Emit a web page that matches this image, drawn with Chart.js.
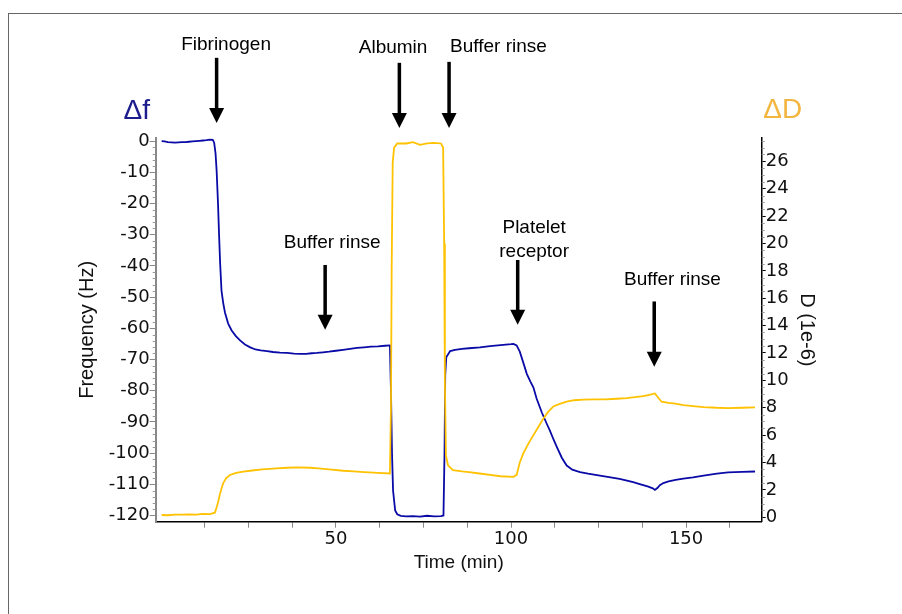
<!DOCTYPE html>
<html>
<head>
<meta charset="utf-8">
<script src="https://cdn.jsdelivr.net/npm/chart.js@4.4.1/dist/chart.umd.min.js"></script>
<style>
  html, body { margin: 0; padding: 0; background: #fff; overflow: hidden; }
  #wrap { position: relative; width: 902px; height: 614px; }
  #frame {
    position: absolute; left: 8px; top: 13px; width: 920px; height: 640px;
    border-left: 1.5px solid #666; border-top: 1.5px solid #666;
    pointer-events: none;
  }
</style>
</head>
<body>
<div id="wrap">
  <canvas id="qcm" width="902" height="614"></canvas>
  <div id="frame"></div>
</div>
<script>
// frequency shift (min, Hz)
const freqTime = [0.2, 1, 2, 3, 4, 5, 6, 7, 8, 9, 10, 11, 12, 13, 14, 14.8, 15.2, 15.6, 15.9, 16.3,
  16.6, 16.9, 17.3, 17.8, 18.3, 19.2, 20.2, 21.4, 22.6, 24, 25.5, 27, 28.5, 30.3, 32, 34, 36, 38, 39.7, 41.5,
  43, 44.5, 46.3, 48, 50, 52, 54, 56, 58, 60, 62, 64, 65.4, 65.7, 66.0, 66.3, 66.9, 67.5, 68.5, 70,
  72, 74, 76, 78, 80, 80.7, 81.0, 81.2, 81.5, 82.6, 84, 86, 88, 91.1, 94, 97, 100, 100.7, 101.6, 102.5,
  103.5, 104.5, 105.5, 106.4, 107.3, 108.8, 110.2, 111.1, 112.2, 113.1, 114.5, 115.9, 117.5, 119.7, 122, 125.4, 128, 131, 134.9, 137,
  139, 140.5, 141.1, 141.8, 142.5, 143.5, 145, 147, 149.2, 152, 155, 158.8, 162, 166, 169.7];
const freqValues = [0.0, -0.1, -0.3, -0.4, -0.5, -0.4, -0.3, -0.3, -0.2, -0.1, 0.0, 0.1, 0.2, 0.3, 0.5, 0.4, -0.5, -4, -9.4, -20,
  -30, -39, -48, -52, -55, -58.5, -60.7, -62.5, -63.9, -65.2, -66.1, -66.8, -67.1, -67.3, -67.6, -67.8, -67.9, -68.1, -68.2, -68.2,
  -68.0, -67.9, -67.7, -67.5, -67.2, -66.9, -66.6, -66.3, -66.1, -65.9, -65.8, -65.6, -65.5, -80, -100, -112, -118.4, -119.6, -120.1, -120.3,
  -120.2, -120.4, -120.1, -120.3, -120.2, -120.0, -100, -75, -69.3, -67.3, -66.9, -66.6, -66.4, -66.1, -65.7, -65.4, -65.1, -65.0, -65.5, -67.5,
  -71, -74.6, -77, -79, -82.5, -87, -90.6, -92.8, -95.8, -98.1, -101.5, -104, -105.3, -106.1, -106.6, -107.2, -107.7, -108.3, -109.3, -110.0,
  -110.7, -111.3, -111.8, -111.2, -110.3, -109.6, -109.1, -108.6, -108.2, -107.8, -107.2, -106.6, -106.2, -106.0, -105.9];

// dissipation (min, 1e-6)
const dissTime = [0.2, 2, 4, 6, 8, 10, 12, 14, 15.4, 16.0, 16.5, 16.9, 17.4, 17.8, 18.6, 19.7, 21.5, 23.5, 26, 29,
  33, 36, 39, 42.6, 45, 48, 52.1, 55, 58, 62, 65.4, 65.7, 65.9, 66.2, 66.6, 67.5, 70, 72, 74, 76,
  78, 80, 80.6, 80.9, 81.1, 81.4, 82, 83.4, 86, 88, 91, 94, 97, 100.7, 101.6, 102.5, 103.5, 105, 106.4, 107.8,
  109.2, 110.6, 112.1, 113.5, 115.9, 118, 120.7, 124, 127, 130.2, 133, 136, 137.8, 139.5, 141.1, 142, 143, 145, 147, 149.2,
  152, 155, 158.8, 162, 166, 169.7];
const dissValues = [0.17, 0.15, 0.2, 0.2, 0.22, 0.2, 0.25, 0.24, 0.34, 0.8, 1.3, 1.75, 2.2, 2.5, 2.85, 3.09, 3.25, 3.33, 3.42, 3.5,
  3.58, 3.62, 3.64, 3.62, 3.58, 3.5, 3.4, 3.35, 3.3, 3.25, 3.2, 8, 18, 25.9, 27.0, 27.3, 27.3, 27.4, 27.2, 27.3,
  27.35, 27.3, 27.0, 20, 10, 4.5, 3.8, 3.45, 3.35, 3.3, 3.2, 3.1, 3.0, 2.96, 3.1, 4.0, 4.67, 5.4, 6.0, 6.6,
  7.2, 7.7, 8.1, 8.25, 8.44, 8.55, 8.6, 8.62, 8.62, 8.66, 8.7, 8.8, 8.85, 8.95, 9.05, 8.75, 8.44, 8.35, 8.3, 8.2,
  8.12, 8.05, 8.0, 7.98, 8.0, 8.03];

// injection events: label lines, arrow time, label time
const eventLabels = [["Fibrinogen"], ["Buffer rinse"], ["Albumin"], ["Buffer rinse"], ["Platelet", "receptor"], ["Buffer rinse"]];
const eventTimes = [15.9, 46.9, 68.1, 82.3, 101.9, 140.9];
const labelTimes = [18.6, 48.9, 66.3, 96.4, 106.6, 146.1];
// vertical placement in Hz units of the left axis
const labelLevels = [30.8, -32.7, 30.0, 30.2, -27.9, -44.5];
const arrowTop = [26.7, -39.7, 25.1, 25.4, -38.1, -51.4];
const arrowTip = [5.8, -60.5, 4.2, 4.2, -58.9, -72.3];

const BLUE = "#0a0aa6";
const GOLD = "#ffc200";
const TEXT_FONT = '"Liberation Sans", Arial, sans-serif';
const TICK_FONT = { family: '"DejaVu Sans", Verdana, sans-serif', size: 18 };

const minorTicks = {
  id: "minorTicks",
  afterDraw(chart) {
    const { ctx } = chart;
    const y = chart.scales.y;
    const d = chart.scales.yD;
    ctx.save();
    ctx.lineWidth = 1;
    ctx.strokeStyle = "#999";
    ctx.beginPath();
    for (let v = -118; v <= y.max; v += 2) {
      if (v % 10 === 0) continue;
      const py = Math.round(y.getPixelForValue(v)) + 0.5;
      ctx.moveTo(y.right - 3, py);
      ctx.lineTo(y.right, py);
    }
    for (let v = 0.5; v <= d.max; v += 0.5) {
      if (v % 2 === 0) continue;
      const py = Math.round(d.getPixelForValue(v)) + 0.5;
      ctx.moveTo(d.left, py);
      ctx.lineTo(d.left + 3, py);
    }
    ctx.stroke();
    ctx.restore();
  }
};

const annotations = {
  id: "annotations",
  afterDraw(chart) {
    const { ctx, scales: { x, y } } = chart;
    ctx.save();
    ctx.fillStyle = "#000";
    ctx.strokeStyle = "#000";
    eventLabels.forEach((lines, i) => {
      const ax = x.getPixelForValue(eventTimes[i]);
      const top = y.getPixelForValue(arrowTop[i]);
      const tip = y.getPixelForValue(arrowTip[i]);
      ctx.lineWidth = 3.5;
      ctx.beginPath();
      ctx.moveTo(ax, top);
      ctx.lineTo(ax, tip - 14);
      ctx.stroke();
      ctx.beginPath();
      ctx.moveTo(ax - 7.5, tip - 15);
      ctx.lineTo(ax + 7.5, tip - 15);
      ctx.lineTo(ax, tip);
      ctx.closePath();
      ctx.fill();

      ctx.font = "19px " + TEXT_FONT;
      ctx.textAlign = "center";
      ctx.textBaseline = "middle";
      const tx = x.getPixelForValue(labelTimes[i]);
      const ty = y.getPixelForValue(labelLevels[i]);
      lines.forEach((s, k) => ctx.fillText(s, tx, ty + k * 23.4));
    });

    ctx.font = "28px " + TEXT_FONT;
    ctx.fillStyle = "#1c1c8e";
    ctx.fillText("\u0394f", x.getPixelForValue(-6.9), y.getPixelForValue(9.5));
    ctx.fillStyle = "#f2b540";
    ctx.fillText("\u0394D", x.getPixelForValue(177.6), y.getPixelForValue(10.0));
    ctx.restore();
  }
};

new Chart(document.getElementById("qcm"), {
  type: "line",
  data: {
    datasets: [
      {
        label: "\u0394f",
        data: freqTime.map((t, i) => ({ x: t, y: freqValues[i] })),
        yAxisID: "y",
        borderColor: BLUE,
        borderWidth: 1.8,
        pointRadius: 0,
        tension: 0,
        order: 1
      },
      {
        label: "\u0394D",
        data: dissTime.map((t, i) => ({ x: t, y: dissValues[i] })),
        yAxisID: "yD",
        borderColor: GOLD,
        borderWidth: 1.8,
        pointRadius: 0,
        tension: 0,
        order: 0
      }
    ]
  },
  options: {
    responsive: false,
    animation: false,
    layout: { padding: { top: 138, left: 0, right: 0, bottom: 0 } },
    plugins: {
      legend: { display: false },
      tooltip: { enabled: false }
    },
    scales: {
      x: {
        type: "linear",
        min: -1.5,
        max: 171.6,
        afterFit(scale) { scale.height = 92.3; },
        border: { color: "#000", width: 1.5 },
        grid: {
          drawOnChartArea: false,
          tickLength: 6,
          tickColor: (c) => (c.tick && c.tick.value === 0 ? "rgba(0,0,0,0)" : "#888")
        },
        ticks: {
          stepSize: 12.5,
          includeBounds: false,
          autoSkip: false,
          maxRotation: 0,
          padding: 1,
          color: "#111",
          font: TICK_FONT,
          callback: (value) => (value > 0 && value % 50 === 0 ? value : "")
        },
        title: {
          display: true,
          text: "Time (min)",
          color: "#111",
          font: { family: TEXT_FONT, size: 19 },
          padding: { top: 0, bottom: 40 }
        }
      },
      y: {
        position: "left",
        min: -122,
        max: 1.0,
        afterFit(scale) { scale.width = 155.7; },
        border: { color: "#888", width: 2 },
        grid: { drawOnChartArea: false, tickLength: 6, tickColor: "#888" },
        ticks: {
          stepSize: 10,
          includeBounds: false,
          padding: 0,
          color: "#111",
          font: TICK_FONT
        },
        title: {
          display: true,
          text: "Frequency (Hz)",
          color: "#111",
          font: { family: TEXT_FONT, size: 20 },
          padding: { top: 75, bottom: 0 }
        }
      },
      yD: {
        position: "right",
        min: -0.32,
        max: 27.7,
        afterFit(scale) { scale.width = 140.3; },
        border: { color: "#000", width: 1.5 },
        grid: { drawOnChartArea: false, tickLength: 4, tickColor: "#000" },
        ticks: {
          stepSize: 2,
          includeBounds: false,
          padding: 0,
          color: "#111",
          font: TICK_FONT
        },
        title: {
          display: true,
          text: "D (1e-6)",
          color: "#111",
          font: { family: TEXT_FONT, size: 20 },
          padding: { top: 83, bottom: 0 }
        }
      }
    }
  },
  plugins: [minorTicks, annotations]
});
</script>
</body>
</html>
